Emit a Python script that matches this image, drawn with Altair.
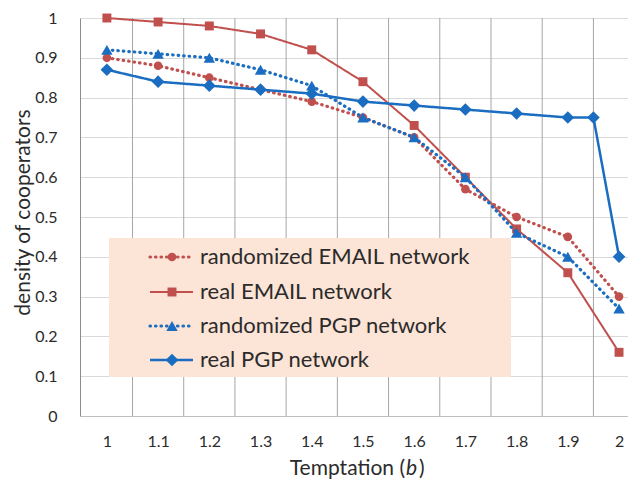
import altair as alt
import pandas as pd

# ---- data ----
temptation = [1.0, 1.1, 1.2, 1.3, 1.4, 1.5, 1.6, 1.7, 1.8, 1.9, 2.0]
temptation_real_pgp = [1.0, 1.1, 1.2, 1.3, 1.4, 1.5, 1.6, 1.7, 1.8, 1.9, 1.95, 2.0]
randomized_email = [0.90, 0.88, 0.85, 0.82, 0.79, 0.75, 0.70, 0.57, 0.50, 0.45, 0.30]
real_email = [1.00, 0.99, 0.98, 0.96, 0.92, 0.84, 0.73, 0.60, 0.47, 0.36, 0.16]
randomized_pgp = [0.92, 0.91, 0.90, 0.87, 0.83, 0.75, 0.70, 0.60, 0.46, 0.40, 0.27]
real_pgp = [0.87, 0.84, 0.83, 0.82, 0.81, 0.79, 0.78, 0.77, 0.76, 0.75, 0.75, 0.40]
series_names = ["randomized EMAIL network", "real EMAIL network",
                "randomized PGP network", "real PGP network"]
x_tick_values = [1.0, 1.1, 1.2, 1.3, 1.4, 1.5, 1.6, 1.7, 1.8, 1.9, 2.0]
x_grid_values = [1.05, 1.15, 1.25, 1.35, 1.45, 1.55, 1.65, 1.75, 1.85, 1.95]
y_tick_values = [0, 0.1, 0.2, 0.3, 0.4, 0.5, 0.6, 0.7, 0.8, 0.9, 1]
x_title = ["Temptation (", "b", ")"]
y_title = "density of cooperators"

series_x = [temptation, temptation, temptation, temptation_real_pgp]
series_y = [randomized_email, real_email, randomized_pgp, real_pgp]

# ---- styles ----
RED = "#C0504D"
BLUE = "#1A6DC0"
FONT = "Lato"
TXT = "#2b2b2b"
styles = [
    dict(color=RED, shape="circle", size=75, dash=[0.5, 5], width=3.2, cap="round"),
    dict(color=RED, shape="square", size=80, dash=[1, 0], width=2, cap="butt"),
    dict(color=BLUE, shape="triangle-up", size=130, dash=[0.5, 5], width=3.2, cap="round"),
    dict(color=BLUE, shape="diamond", size=160, dash=[1, 0], width=2.5, cap="butt"),
]

W, H = 548, 398
xscale = alt.Scale(domain=[0.9475, 2.0175], nice=False, zero=False)
yscale = alt.Scale(domain=[0, 1], nice=False)
X = alt.X("x:Q", scale=xscale,
          axis=alt.Axis(values=x_tick_values, format="~g", grid=False, ticks=False,
                        tickSize=0, labelPadding=17, title=None,
                        domainColor="#BFBFBF", labelFontSize=16, labelColor=TXT,
                        labelFont=FONT))
Y = alt.Y("y:Q", scale=yscale,
          axis=alt.Axis(values=y_tick_values, format="~g", grid=True, gridColor="#D9D9D9",
                        ticks=False, tickSize=0, labelPadding=23, domainColor="#8C8C8C",
                        labelFontSize=16, labelColor=TXT, labelFont=FONT,
                        title=y_title, titleFontSize=21, titleFont=FONT,
                        titleFontWeight="normal", titleColor=TXT,
                        titleX=-57, titleY=H / 2 - 5, titleAngle=-90,
                        titleAlign="center", titleBaseline="middle"))

layers = []

# vertical grid lines
grid_df = pd.DataFrame({"x": x_grid_values})
layers.append(alt.Chart(grid_df).mark_rule(color="#A6A6A6", strokeWidth=1).encode(x=X))

# series
for name, xs, ys, st in zip(series_names, series_x, series_y, styles):
    df = pd.DataFrame({"x": xs, "y": ys, "series": name})
    layers.append(alt.Chart(df).mark_line(color=st["color"], strokeWidth=st["width"],
                                          strokeDash=st["dash"], strokeCap=st["cap"])
                  .encode(x=X, y=Y))
    layers.append(alt.Chart(df).mark_point(color=st["color"], filled=True, opacity=1,
                                           shape=st["shape"], size=st["size"])
                  .encode(x=X, y=Y))

# legend box
one = pd.DataFrame({"k": [0]})
layers.append(alt.Chart(one).mark_rect(color="#FCE4D6").encode(
    x=alt.value(29), x2=alt.value(431), y=alt.value(220), y2=alt.value(359)))
row_y = [239, 274, 308, 342]
for name, st, ry in zip(series_names, styles, row_y):
    layers.append(alt.Chart(one).mark_rule(color=st["color"], strokeWidth=st["width"],
                                           strokeDash=st["dash"], strokeCap=st["cap"])
                  .encode(x=alt.value(70), x2=alt.value(113), y=alt.value(ry)))
    layers.append(alt.Chart(one).mark_point(color=st["color"], filled=True, opacity=1,
                                            shape=st["shape"], size=st["size"])
                  .encode(x=alt.value(92), y=alt.value(ry)))
    layers.append(alt.Chart(one).mark_text(align="left", baseline="middle", fontSize=22,
                                           font=FONT, color=TXT)
                  .encode(x=alt.value(120), y=alt.value(ry), text=alt.value(name)))

# x-axis title with italic b
ty = 451
layers.append(alt.Chart(one).mark_text(align="right", baseline="middle", fontSize=21,
                                       font=FONT, color=TXT)
              .encode(x=alt.value(325), y=alt.value(ty), text=alt.value(x_title[0])))
layers.append(alt.Chart(one).mark_text(align="left", baseline="middle", fontSize=21,
                                       font=FONT, fontStyle="italic", color=TXT)
              .encode(x=alt.value(326), y=alt.value(ty), text=alt.value(x_title[1])))
layers.append(alt.Chart(one).mark_text(align="left", baseline="middle", fontSize=21,
                                       font=FONT, color=TXT)
              .encode(x=alt.value(339), y=alt.value(ty), text=alt.value(x_title[2])))

chart = alt.layer(*layers).properties(
    width=W, height=H,
    autosize=alt.AutoSizeParams(type="none"),
    padding={"left": 72, "top": 10, "right": 0, "bottom": 72},
    background="white",
).configure_view(stroke=None)

chart.save("out.html", embed_options={"renderer": "svg", "actions": False})
